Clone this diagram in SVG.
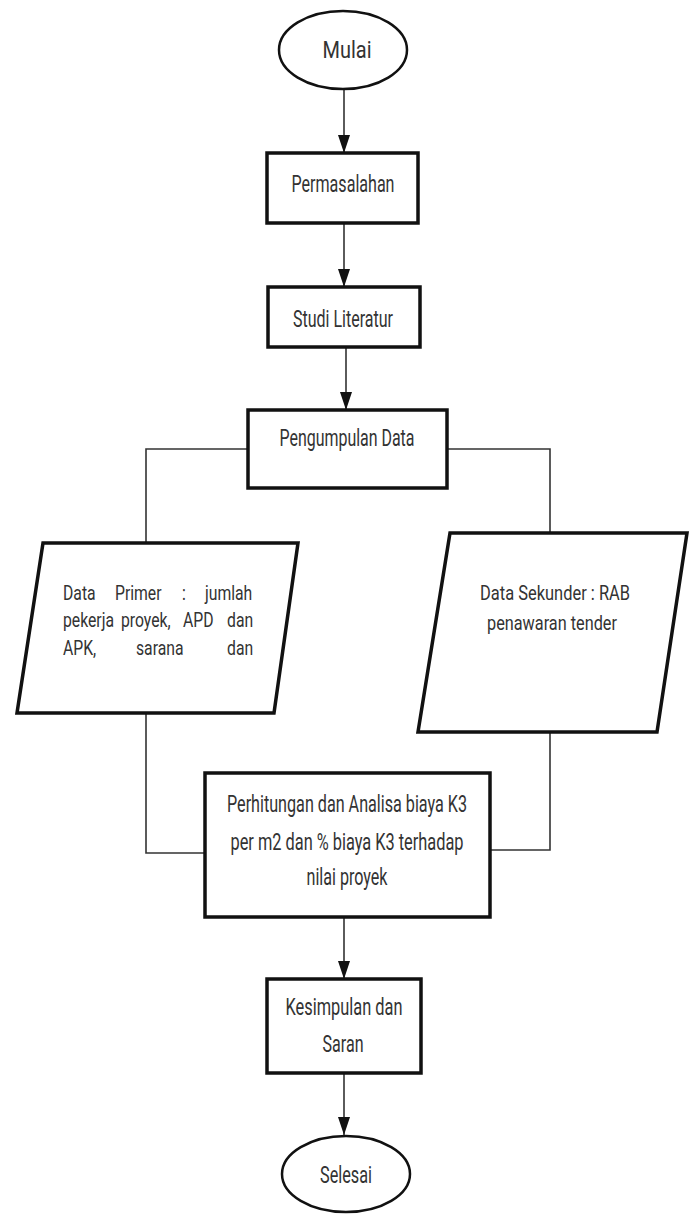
<svg xmlns="http://www.w3.org/2000/svg" width="694" height="1214" viewBox="0 0 694 1214">
<style>
.box{fill:#fff;stroke:#111;stroke-width:3.5}
.term{fill:#fff;stroke:#111;stroke-width:2.5}
.con{fill:none;stroke:#333;stroke-width:1.6}
.t{font-family:Roboto,"Liberation Sans",sans-serif;font-size:23px;fill:#333}
.s{font-size:21px}
.c{text-anchor:middle}
</style>
<defs>
<marker id="ah" markerUnits="userSpaceOnUse" markerWidth="18" markerHeight="12" viewBox="0 0 18 12" refX="18" refY="6" orient="auto">
<path d="M0,0 L18,6 L0,12 z" fill="#111"/>
</marker>
</defs>
<rect width="694" height="1214" fill="#fff"/>
<g id="connectors">
<path class="con" d="M344,90 V153" marker-end="url(#ah)"/>
<path class="con" d="M344,223 V287" marker-end="url(#ah)"/>
<path class="con" d="M346,347 V410" marker-end="url(#ah)"/>
<path class="con" d="M248,449 H146 V543"/>
<path class="con" d="M447,449 H550 V533"/>
<path class="con" d="M146,713 V853 H205"/>
<path class="con" d="M550,732 V850 H490"/>
<path class="con" d="M344,917 V979" marker-end="url(#ah)"/>
<path class="con" d="M344,1073 V1135" marker-end="url(#ah)"/>
</g>
<g id="mulai">
<ellipse class="term" cx="343" cy="50" rx="64" ry="39"/>
<text class="t c" x="347" y="58" textLength="49" lengthAdjust="spacingAndGlyphs">Mulai</text>
</g>
<g id="permasalahan">
<rect class="box" x="267" y="153" width="151" height="70"/>
<text class="t c" x="343" y="192" textLength="103" lengthAdjust="spacingAndGlyphs">Permasalahan</text>
</g>
<g id="studi">
<rect class="box" x="268" y="287" width="152" height="60"/>
<text class="t c" x="343" y="327" textLength="100" lengthAdjust="spacingAndGlyphs">Studi Literatur</text>
</g>
<g id="pengumpulan">
<rect class="box" x="248" y="410" width="199" height="78"/>
<text class="t c" x="347" y="446" textLength="135" lengthAdjust="spacingAndGlyphs">Pengumpulan Data</text>
</g>
<g id="primer">
<polygon class="box" points="43,543 298,543 274,713 17,713"/>
<text class="t s" transform="translate(63,600) scale(0.75,1)"><tspan x="0" y="0">Data</tspan><tspan x="69.3" y="0">Primer</tspan><tspan x="158.7" y="0">:</tspan><tspan x="189.3" y="0">jumlah</tspan></text>
<text class="t s" transform="translate(63,627) scale(0.75,1)"><tspan x="0" y="0">pekerja</tspan><tspan x="77.3" y="0">proyek,</tspan><tspan x="160" y="0">APD</tspan><tspan x="218.7" y="0">dan</tspan></text>
<text class="t s" transform="translate(63,655) scale(0.75,1)"><tspan x="0" y="0">APK,</tspan><tspan x="97.3" y="0">sarana</tspan><tspan x="218.7" y="0">dan</tspan></text>
</g>
<g id="sekunder">
<polygon class="box" points="450,533 687,533 657,732 418,732"/>
<text class="t s c" x="555" y="600" textLength="150" lengthAdjust="spacingAndGlyphs">Data Sekunder : RAB</text>
<text class="t s c" x="552" y="630" textLength="130" lengthAdjust="spacingAndGlyphs">penawaran tender</text>
</g>
<g id="perhitungan">
<rect class="box" x="205" y="773" width="285" height="144"/>
<text class="t c" x="347" y="812" textLength="240" lengthAdjust="spacingAndGlyphs">Perhitungan dan Analisa biaya K3</text>
<text class="t c" x="347" y="850" textLength="233" lengthAdjust="spacingAndGlyphs">per m2 dan % biaya K3 terhadap</text>
<text class="t c" x="347" y="885" textLength="81" lengthAdjust="spacingAndGlyphs">nilai proyek</text>
</g>
<g id="kesimpulan">
<rect class="box" x="267" y="979" width="154" height="94"/>
<text class="t c" x="344" y="1015" textLength="117" lengthAdjust="spacingAndGlyphs">Kesimpulan dan</text>
<text class="t c" x="343" y="1052" textLength="41" lengthAdjust="spacingAndGlyphs">Saran</text>
</g>
<g id="selesai">
<ellipse class="term" cx="346" cy="1174" rx="64" ry="38"/>
<text class="t c" x="346" y="1183" textLength="52" lengthAdjust="spacingAndGlyphs">Selesai</text>
</g>
</svg>
